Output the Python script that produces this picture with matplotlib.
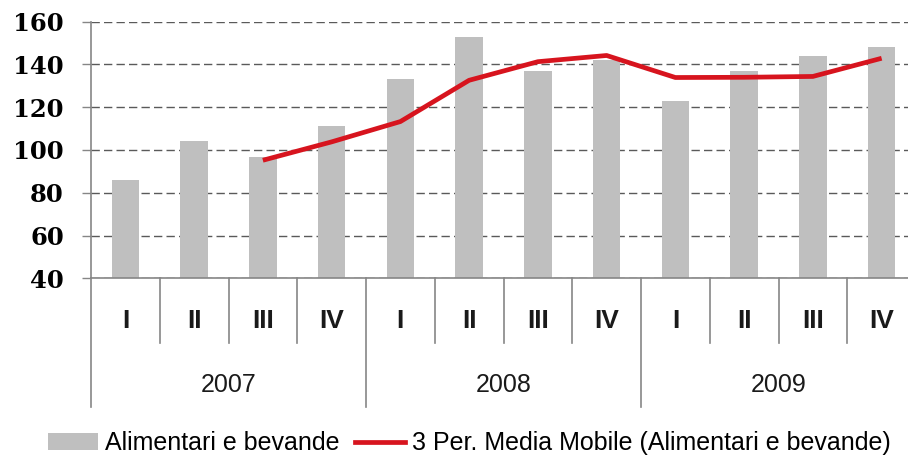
import matplotlib
matplotlib.use("Agg")
import matplotlib.pyplot as plt
from matplotlib.lines import Line2D
from matplotlib.patches import Patch
import matplotlib.transforms as mtransforms

# ---- data ----
quarters = ["I", "II", "III", "IV", "I", "II", "III", "IV", "I", "II", "III", "IV"]
years = ["2007", "2008", "2009"]
bar_values = [86, 104, 96.5, 111, 133, 153, 137, 142, 123, 137, 144, 148]
ma_values = [95.2, 103.8, 113.3, 132.6, 141.3, 144.2, 133.9, 134.0, 134.4, 142.9]
ma_start = 2
yticks = [40, 60, 80, 100, 120, 140, 160]
bar_label = "Alimentari e bevande"
line_label = "3 Per. Media Mobile (Alimentari e bevande)"

narrow = ["Liberation Sans Narrow", "Liberation Sans", "DejaVu Sans"]

W, H = 908, 457
fig = plt.figure(figsize=(W / 100, H / 100), dpi=100)
left_px, right_px, top_px, bot_px = 91, 916, 21.7, 278.3
ax = fig.add_axes([left_px / W, 1 - bot_px / H, (right_px - left_px) / W, (bot_px - top_px) / H])

x = list(range(len(bar_values)))
ax.bar(x, bar_values, width=0.4, color="#BFBFBF", zorder=2)
ax.plot(x[ma_start:ma_start + len(ma_values)], ma_values, color="#D7141E", lw=3.4,
        solid_joinstyle="round", solid_capstyle="butt", zorder=3)

ax.set_xlim(-0.5, len(bar_values) - 0.5)
ax.set_ylim(yticks[0], yticks[-1])
ax.set_yticks(yticks)
ax.set_yticklabels([str(v) for v in yticks], fontfamily="DejaVu Serif", fontweight="bold", fontsize=17.5)
ax.tick_params(axis="y", direction="out", length=6.5, width=1, color="#868686", pad=13)
ax.set_xticks([])
ax.yaxis.grid(True, linestyle=(0, (6, 3)), color="#5a5a5a", lw=1)
ax.set_axisbelow(True)
for s in ["top", "right"]:
    ax.spines[s].set_visible(False)
ax.spines["left"].set_color("#868686")
ax.spines["bottom"].set_color("#868686")
ax.spines["left"].set_linewidth(1.2)
ax.spines["bottom"].set_linewidth(1.2)

# category axis (quarters + years)
trans = mtransforms.blended_transform_factory(ax.transData, ax.transAxes)
axh = bot_px - top_px
y_q = -(342.7 - bot_px) / axh
y_y = -(407 - bot_px) / axh
y_ql = -(320.7 - bot_px) / axh
y_yl = -(385 - bot_px) / axh
n = len(quarters)
for i in range(n + 1):
    xb = i - 0.5
    ylow = y_y if i % 4 == 0 else y_q
    ax.add_line(Line2D([xb, xb], [0, ylow], transform=trans, color="#868686", lw=1.2, clip_on=False))
for i, q in enumerate(quarters):
    ax.text(i, y_ql, q, transform=trans, ha="center", va="center", fontsize=19,
            fontweight="bold", family=narrow, color="#1a1a1a")
for j, yr in enumerate(years):
    ax.text(4 * j + 1.5, y_yl, yr, transform=trans, ha="center", va="center", fontsize=18,
            family=narrow, color="#1a1a1a")

handles = [Patch(facecolor="#BFBFBF", edgecolor="none", label=bar_label),
           Line2D([0], [0], color="#D7141E", lw=3.4, label=line_label)]
fig.legend(handles=handles, loc="center", bbox_to_anchor=(0.517, 0.03), ncol=2, frameon=False,
           prop={"family": narrow, "size": 18}, handlelength=2.0, handletextpad=0.3,
           columnspacing=0.6, borderpad=0, borderaxespad=0)

fig.savefig("out.png", dpi=100)
